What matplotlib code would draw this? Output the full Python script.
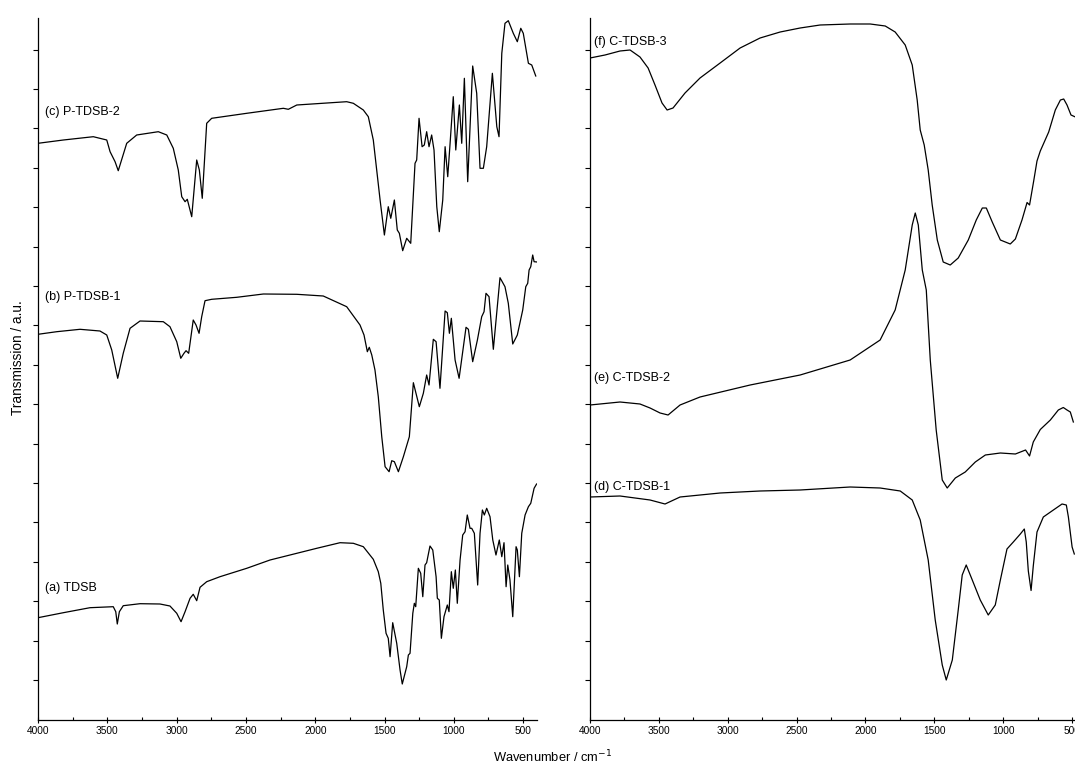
import numpy as np
import matplotlib
matplotlib.use("Agg")
import matplotlib.pyplot as plt
from matplotlib.ticker import MultipleLocator, NullFormatter

plt.rcParams["font.family"] = ["Liberation Sans", "DejaVu Sans"]

# ---- data (wavenumber / cm-1, transmission a.u.) ----
# left panel
wn_a = [4000, 3817, 3625, 3457, 3439, 3428, 3413, 3385, 3264, 3120, 3048, 2999, 2968, 2939,
        2903, 2880, 2855, 2831, 2783, 2687, 2494, 2326, 2133, 1989, 1821, 1725, 1653, 1581,
        1545, 1527, 1509, 1489, 1473, 1460, 1441, 1412, 1388, 1372, 1340, 1328, 1316, 1296,
        1285, 1275, 1256, 1239, 1224, 1208, 1196, 1172, 1152, 1128, 1119, 1105, 1090, 1071,
        1047, 1035, 1018, 1004, 989, 975, 955, 936, 919, 903, 883, 871, 852, 828, 811, 794,
        780, 763, 739, 719, 696, 672, 654, 638, 623, 611, 595, 575, 551, 542, 527, 510, 486,
        462, 445, 421, 403]
t_a = [10.23, 10.73, 11.23, 11.33, 10.83, 9.6, 10.83, 11.43, 11.63, 11.6, 11.4, 10.67, 9.83,
       10.83, 12.17, 12.57, 11.93, 13.27, 13.83, 14.33, 15.17, 16.0, 16.67, 17.17, 17.73, 17.67,
       17.33, 16.07, 14.83, 13.67, 11.0, 8.67, 8.17, 6.33, 9.73, 7.67, 5.0, 3.6, 5.33, 6.5, 6.67,
       10.67, 11.67, 11.33, 15.17, 14.67, 12.33, 15.5, 15.73, 17.4, 17.0, 14.33, 12.17, 12.0,
       8.17, 10.33, 11.5, 10.83, 14.83, 13.17, 15.0, 11.67, 16.0, 18.5, 18.83, 20.5, 19.17,
       19.17, 18.67, 13.5, 18.67, 21.0, 20.5, 21.17, 20.33, 18.0, 16.5, 18.0, 16.33, 17.73,
       13.33, 15.5, 14.0, 10.33, 17.33, 17.0, 14.33, 18.67, 20.5, 21.33, 21.67, 23.17, 23.6]

wn_b = [4000, 3865, 3697, 3553, 3504, 3468, 3425, 3385, 3336, 3264, 3096, 3048, 2999, 2970,
        2947, 2932, 2913, 2880, 2860, 2838, 2819, 2795, 2747, 2566, 2374, 2133, 1942, 1773,
        1677, 1648, 1624, 1610, 1592, 1569, 1545, 1520, 1496, 1467, 1448, 1429, 1400, 1364,
        1321, 1292, 1249, 1220, 1196, 1179, 1148, 1128, 1100, 1063, 1047, 1032, 1018, 991,
        962, 912, 895, 864, 830, 799, 782, 768, 746, 715, 667, 631, 607, 575, 542, 503, 481,
        467, 457, 445, 431, 421, 400]
t_b = [38.57, 38.83, 39.07, 38.9, 38.5, 37.0, 34.17, 36.67, 39.17, 39.9, 39.83, 39.33, 37.83,
       36.17, 36.67, 36.93, 36.67, 40.0, 39.5, 38.67, 40.33, 41.93, 42.07, 42.27, 42.6, 42.57,
       42.4, 41.33, 39.5, 38.5, 36.83, 37.27, 36.5, 35.0, 32.33, 28.33, 25.33, 24.83, 25.93,
       25.83, 24.83, 26.33, 28.33, 33.73, 31.33, 32.67, 34.5, 33.5, 38.07, 37.83, 33.17, 40.9,
       40.73, 38.67, 40.17, 36.0, 34.17, 39.27, 39.07, 35.83, 38.0, 40.33, 40.83, 42.67, 42.33,
       37.07, 44.23, 43.33, 41.67, 37.6, 38.5, 41.0, 43.33, 43.67, 45.0, 45.33, 46.5, 45.83, 45.8]

wn_c = [4000, 3817, 3601, 3504, 3480, 3444, 3421, 3360, 3288, 3132, 3071, 3024, 2988, 2963,
        2939, 2923, 2891, 2855, 2836, 2815, 2783, 2747, 2494, 2230, 2194, 2133, 1773, 1725,
        1653, 1617, 1581, 1532, 1501, 1473, 1455, 1429, 1408, 1393, 1369, 1340, 1311, 1280,
        1268, 1251, 1229, 1213, 1196, 1179, 1160, 1143, 1123, 1105, 1080, 1063, 1044, 1027,
        1004, 986, 960, 943, 924, 900, 864, 835, 811, 787, 763, 722, 690, 674, 654, 631, 607,
        571, 542, 517, 499, 462, 438, 409]
t_c = [57.67, 58.0, 58.33, 58.0, 56.83, 55.83, 54.93, 57.67, 58.5, 58.83, 58.5, 57.17, 55.0,
       52.33, 51.83, 52.07, 50.33, 56.0, 55.0, 52.17, 59.67, 60.17, 60.67, 61.17, 61.07, 61.5,
       61.83, 61.67, 61.0, 60.33, 58.0, 52.0, 48.5, 51.33, 50.17, 52.0, 49.0, 48.67, 46.93,
       48.17, 47.67, 55.67, 56.0, 60.17, 57.33, 57.5, 58.83, 57.33, 58.5, 57.0, 51.33, 48.83,
       52.0, 57.33, 54.33, 57.67, 62.33, 57.0, 61.5, 57.67, 64.17, 53.83, 65.4, 62.67, 55.17,
       55.17, 57.33, 64.67, 59.33, 58.33, 66.67, 69.67, 69.93, 68.67, 67.83, 69.17, 68.67,
       65.67, 65.5, 64.4]

# right panel
wn_d = [4000, 3782, 3564, 3455, 3346, 3055, 2765, 2474, 2111, 1893, 1747, 1660, 1602, 1544,
        1493, 1442, 1413, 1369, 1326, 1297, 1268, 1224, 1166, 1108, 1057, 1020, 972, 926, 875,
        846, 832, 817, 797, 781, 754, 708, 635, 572, 541, 526, 499, 483]
t_d = [22.3, 22.4, 22.0, 21.6, 22.3, 22.7, 22.9, 23.0, 23.3, 23.2, 22.9, 22.0, 20.0, 16.0,
       10.0, 5.5, 4.0, 6.0, 11.0, 14.5, 15.5, 14.0, 12.0, 10.5, 11.5, 14.0, 17.1, 17.8, 18.6,
       19.1, 17.8, 14.9, 12.95, 15.4, 18.8, 20.3, 21.0, 21.6, 21.5, 20.3, 17.3, 16.6]

wn_e = [4000, 3782, 3637, 3564, 3491, 3433, 3346, 3201, 2837, 2474, 2111, 1893, 1784, 1711,
        1660, 1638, 1616, 1587, 1558, 1529, 1486, 1442, 1406, 1347, 1275, 1202, 1129, 1020,
        911, 837, 808, 781, 730, 657, 599, 563, 536, 512, 490]
t_e = [31.5, 31.8, 31.6, 31.2, 30.7, 30.5, 31.5, 32.3, 33.5, 34.5, 36.0, 38.0, 41.0, 45.0,
       49.5, 50.7, 49.5, 45.0, 43.0, 36.0, 29.0, 24.0, 23.2, 24.2, 24.8, 25.8, 26.5, 26.7,
       26.6, 27.0, 26.4, 27.8, 29.05, 30.0, 31.0, 31.25, 31.0, 30.8, 29.8]

wn_f = [4000, 3891, 3782, 3709, 3637, 3578, 3528, 3477, 3440, 3397, 3310, 3201, 3055, 2910,
        2765, 2619, 2474, 2329, 2111, 1965, 1856, 1784, 1711, 1660, 1624, 1602, 1573, 1544,
        1515, 1478, 1435, 1384, 1326, 1253, 1195, 1151, 1122, 1079, 1020, 948, 911, 863, 826,
        808, 778, 754, 730, 669, 621, 584, 560, 536, 507, 475]
t_f = [66.2, 66.5, 66.9, 67.0, 66.3, 65.2, 63.5, 61.7, 61.0, 61.2, 62.7, 64.2, 65.7, 67.2,
       68.2, 68.8, 69.2, 69.5, 69.6, 69.6, 69.4, 68.8, 67.5, 65.5, 62.0, 59.0, 57.5, 55.0,
       51.5, 48.0, 45.8, 45.5, 46.2, 48.0, 50.0, 51.2, 51.2, 49.8, 48.0, 47.6, 48.1, 50.0,
       51.75, 51.5, 53.9, 55.9, 56.9, 58.8, 61.0, 62.0, 62.1, 61.5, 60.5, 60.3]

left_labels = ["(a) TDSB", "(b) P-TDSB-1", "(c) P-TDSB-2"]
right_labels = ["(d) C-TDSB-1", "(e) C-TDSB-2", "(f) C-TDSB-3"]
left_label_y = [13.2, 42.3, 60.8]
right_label_y = [23.3, 34.2, 67.8]

# ---- figure ----
fig = plt.figure(figsize=(10.75, 7.67), dpi=100)
ax1 = fig.add_axes([38 / 1075, 47 / 767, 499 / 1075, 702 / 767])
ax2 = fig.add_axes([590 / 1075, 47 / 767, 485 / 1075, 702 / 767])

for ax, xmax in ((ax1, 400), (ax2, 478)):
    ax.set_xlim(4000, xmax)
    ax.set_ylim(0, 70.2)
    ax.spines["top"].set_visible(False)
    ax.spines["right"].set_visible(False)
    ax.xaxis.set_major_locator(MultipleLocator(500))
    ax.xaxis.set_minor_locator(MultipleLocator(250))
    ax.set_yticks(np.arange(4.0, 70, 3.94))
    ax.yaxis.set_major_formatter(NullFormatter())
    ax.tick_params(axis="x", which="major", direction="inout", length=5, width=0.8,
                   labelsize=7.3, pad=2)
    ax.tick_params(axis="x", which="minor", direction="in", length=2.5, width=0.8)
    ax.tick_params(axis="y", which="major", direction="out", length=3.5, width=0.8)
    for s in ("left", "bottom"):
        ax.spines[s].set_linewidth(0.9)

ax1.plot(wn_a, t_a, color="black", linewidth=0.9)
ax1.plot(wn_b, t_b, color="black", linewidth=0.9)
ax1.plot(wn_c, t_c, color="black", linewidth=0.9)
ax2.plot(wn_d, t_d, color="black", linewidth=0.9)
ax2.plot(wn_e, t_e, color="black", linewidth=0.9)
ax2.plot(wn_f, t_f, color="black", linewidth=0.9)

for lab, y in zip(left_labels, left_label_y):
    ax1.text(3950, y, lab, fontsize=9, va="center", ha="left")
for lab, y in zip(right_labels, right_label_y):
    ax2.text(3971, y, lab, fontsize=9, va="center", ha="left")

fig.text(18 / 1075, 1 - 358 / 767, "Transmission / a.u.", rotation=90, fontsize=9.8,
         ha="center", va="center")
fig.text(553 / 1075, 1 - 757 / 767, "Wavenumber / cm$^{-1}$", fontsize=9.3,
         ha="center", va="center")

fig.savefig("out.png", dpi=100)
